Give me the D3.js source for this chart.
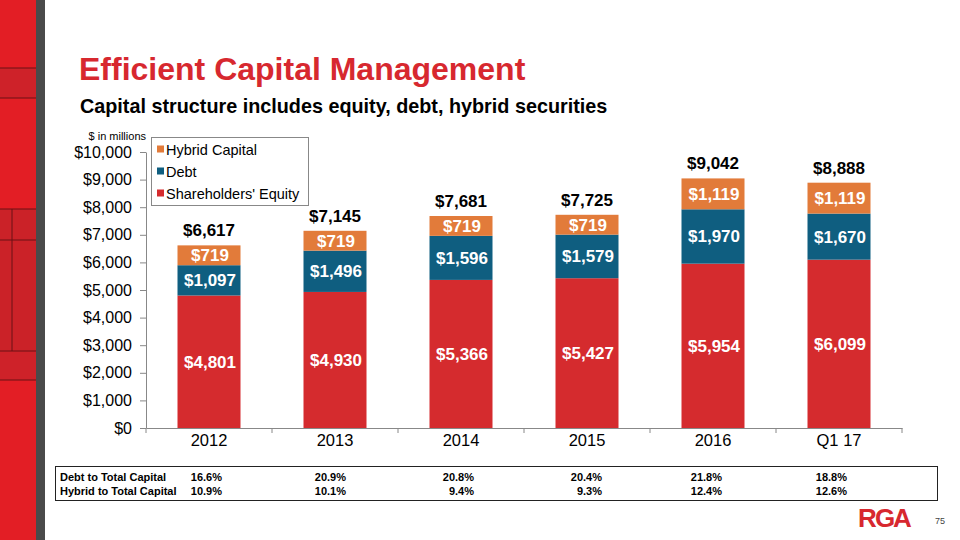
<!DOCTYPE html>
<html><head><meta charset="utf-8">
<script src="https://cdn.jsdelivr.net/npm/d3@7"></script>
<style>
body{margin:0;background:#fff;}
svg{display:block;font-family:"Liberation Sans",Arial,sans-serif;}
</style></head>
<body><svg id="c" width="960" height="540"></svg>
<script>
const categories = ["2012","2013","2014","2015","2016","Q1 17"];
const equity = [4801,4930,5366,5427,5954,6099];
const debt = [1097,1496,1596,1579,1970,1670];
const hybrid = [719,719,719,719,1119,1119];
const totals = ["$6,617","$7,145","$7,681","$7,725","$9,042","$8,888"];
const seriesNames = ["Shareholders' Equity","Debt","Hybrid Capital"];
const colors = ["#d52b2e","#0f5e80","#e27b3a"];
const yTicks = [0,1000,2000,3000,4000,5000,6000,7000,8000,9000,10000];
const debtRatio = ["16.6%","20.9%","20.8%","20.4%","21.8%","18.8%"];
const hybridRatio = ["10.9%","10.1%","9.4%","9.3%","12.4%","12.6%"];

const svg = d3.select("#c");
const FF = "Liberation Sans, Arial, sans-serif";

// left decorative strip
svg.append("rect").attr("x",0).attr("y",0).attr("width",36).attr("height",540).attr("fill","#e31e25");
svg.append("rect").attr("x",36).attr("y",0).attr("width",9).attr("height",540).attr("fill","#4a4a4a");
svg.append("rect").attr("x",0).attr("y",68).attr("width",36).attr("height",30).attr("fill","#c8232b").attr("opacity",0.8);
svg.append("rect").attr("x",0).attr("y",209).attr("width",36).attr("height",142).attr("fill","#c0232a").attr("opacity",0.7);
svg.append("rect").attr("x",0).attr("y",351).attr("width",36).attr("height",29).attr("fill","#c8232b").attr("opacity",0.8);
[68,98,209,240,351,380].forEach(y=>svg.append("line").attr("x1",0).attr("x2",36).attr("y1",y).attr("y2",y).attr("stroke","#6a1015").attr("stroke-width",1));
svg.append("line").attr("x1",12).attr("x2",12).attr("y1",209).attr("y2",351).attr("stroke","#6a1015");

// titles
svg.append("text").attr("x",79).attr("y",80).attr("fill","#d7282f").attr("font-size",32).attr("font-weight","bold").text("Efficient Capital Management");
svg.append("text").attr("x",80).attr("y",113).attr("fill","#000").attr("font-size",19.8).attr("font-weight","bold").text("Capital structure includes equity, debt, hybrid securities");
svg.append("text").attr("x",146).attr("y",140).attr("text-anchor","end").attr("font-size",11).attr("fill","#000").text("$ in millions");

const x = d3.scaleBand().domain(categories).range([146,902]).paddingInner(0.5).paddingOuter(0.25);
const y = d3.scaleLinear().domain([0,10000]).range([428,152]);

// y axis
const ya = svg.append("g").attr("transform","translate(146,0)")
  .call(d3.axisLeft(y).tickValues(yTicks).tickFormat(d=>"$"+d3.format(",")(d)).tickSize(6).tickSizeOuter(0));
ya.select(".domain").attr("stroke","#888");
ya.selectAll(".tick line").attr("stroke","#888");
ya.selectAll("text").attr("font-size",16).attr("fill","#000").attr("font-family",FF).attr("dx",-5);

// x axis
const xa = svg.append("g").attr("transform","translate(0,428)")
  .call(d3.axisBottom(x).tickSize(0).tickSizeOuter(0));
xa.select(".domain").attr("stroke","#888");
xa.selectAll("text").attr("font-size",16.5).attr("fill","#000").attr("dy","0.9em").attr("font-family",FF);
const step = x.step();
categories.forEach((c,i)=>{
  const bx = 146 + step*i;
  svg.append("line").attr("x1",bx).attr("x2",bx).attr("y1",428).attr("y2",433).attr("stroke","#888");
});
svg.append("line").attr("x1",902).attr("x2",902).attr("y1",428).attr("y2",433).attr("stroke","#888");

// stacked
const data = categories.map((c,i)=>({cat:c,eq:equity[i],debt:debt[i],hyb:hybrid[i]}));
const stack = d3.stack().keys(["eq","debt","hyb"])(data);
const fmt = v=>"$"+d3.format(",")(v);
stack.forEach((s,si)=>{
  const g = svg.append("g");
  g.selectAll("rect").data(s).join("rect")
    .attr("x",d=>x(d.data.cat)).attr("width",x.bandwidth())
    .attr("y",d=>y(d[1])).attr("height",d=>y(d[0])-y(d[1]))
    .attr("fill",colors[si]);
  g.selectAll("text").data(s).join("text")
    .attr("x",d=>x(d.data.cat)+x.bandwidth()/2+1)
    .attr("y",d=>(y(d[0])+y(d[1]))/2+6)
    .attr("text-anchor","middle").attr("fill","#fff").attr("font-weight","bold").attr("font-size",17)
    .text(d=>fmt(d[1]-d[0]));
});
// totals
svg.append("g").selectAll("text").data(data).join("text")
  .attr("x",d=>x(d.cat)+x.bandwidth()/2)
  .attr("y",(d,i)=>y(d.eq+d.debt+d.hyb)-9)
  .attr("text-anchor","middle").attr("font-weight","bold").attr("font-size",17).attr("fill","#000")
  .text((d,i)=>totals[i]);

// legend
const lg = svg.append("g");
lg.append("rect").attr("x",151.5).attr("y",137.5).attr("width",157).attr("height",68).attr("fill","#fff").attr("stroke","#888");
const legItems = [[2,"Hybrid Capital"],[1,"Debt"],[0,"Shareholders' Equity"]];
legItems.forEach((it,i)=>{
  const ly = 149.5 + i*22;
  lg.append("rect").attr("x",157).attr("y",ly-4).attr("width",7).attr("height",7).attr("fill",colors[it[0]]);
  lg.append("text").attr("x",166).attr("y",ly+5).attr("font-size",14.5).attr("fill","#000").text(it[1]);
});

// ratio table
svg.append("rect").attr("x",55.5).attr("y",466.5).attr("width",882).attr("height",34).attr("fill","none").attr("stroke","#222").attr("stroke-width",1);
const tf = "'Liberation Sans Narrow','Arial Narrow','Liberation Sans',sans-serif";
const colEnds = [222,346,474,602,722,847];
[["Debt to Total Capital",debtRatio,481],["Hybrid to Total Capital",hybridRatio,494.5]].forEach(r=>{
  svg.append("text").attr("x",60).attr("y",r[2]).attr("font-size",11).attr("font-weight","bold").attr("font-family",tf).text(r[0]);
  r[1].forEach((v,i)=>svg.append("text").attr("x",colEnds[i]).attr("y",r[2]).attr("text-anchor","end").attr("font-size",11).attr("font-weight","bold").attr("font-family",tf).text(v));
});

// logo + page
svg.append("text").attr("x",884).attr("y",527).attr("text-anchor","middle").attr("font-size",26).attr("font-weight","bold").attr("fill","#d7282f").attr("letter-spacing",-2).text("RGA");
svg.append("text").attr("x",935).attr("y",524).attr("font-size",9).attr("fill","#444").text("75");
</script></body></html>
